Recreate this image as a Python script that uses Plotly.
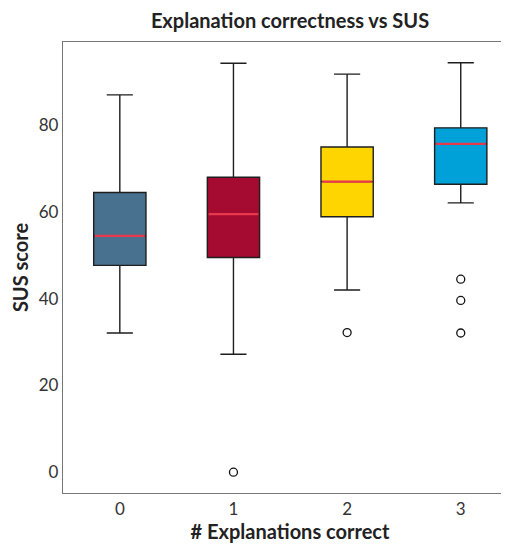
import plotly.graph_objects as go

categories = [0, 1, 2, 3]
upper_whisker = [87.0, 94.3, 91.8, 94.4]
q3_values = [64.5, 68.0, 75.0, 79.4]
median_values = [54.5, 59.5, 67.0, 75.7]
q1_values = [47.7, 49.5, 58.9, 66.4]
lower_whisker = [32.1, 27.2, 42.0, 62.1]
outlier_x = [1, 2, 3, 3, 3]
outlier_y = [0.0, 32.2, 44.5, 39.6, 32.1]
box_colors = ["#48708f", "#a50a30", "#ffd500", "#00a0d8"]
tick_labels = ["0", "1", "2", "3"]

BOX_W = 0.46
FONT = "Lato, 'Open Sans', sans-serif"

fig = go.Figure()
for i, c in enumerate(categories):
    fig.add_trace(go.Box(
        x=[c], q1=[q1_values[i]], median=[median_values[i]], q3=[q3_values[i]],
        lowerfence=[lower_whisker[i]], upperfence=[upper_whisker[i]],
        width=BOX_W, whiskerwidth=0.5,
        fillcolor=box_colors[i], line=dict(color="#1e1e1e", width=1.4),
        boxpoints=False, showlegend=False, hoverinfo="skip",
    ))
    fig.add_trace(go.Scatter(
        x=[c - BOX_W / 2 + 0.01, c + BOX_W / 2 - 0.01],
        y=[median_values[i], median_values[i]],
        mode="lines", line=dict(color="#e8384c", width=2.2),
        showlegend=False, hoverinfo="skip",
    ))

fig.add_trace(go.Scatter(
    x=outlier_x, y=outlier_y, mode="markers",
    marker=dict(symbol="circle-open", size=8, color="#111", line=dict(width=1.3)),
    showlegend=False, hoverinfo="skip",
))

fig.update_layout(
    width=509, height=537,
    margin=dict(l=55, r=0, t=34, b=52),
    paper_bgcolor="white", plot_bgcolor="white",
    title=dict(text="<b>Explanation correctness vs SUS</b>", xref="paper", x=0.5, xanchor="center",
               yref="container", y=0.975, yanchor="middle", font=dict(family=FONT, size=20, color="#222")),
    font=dict(family=FONT, color="#333"),
)
fig.update_xaxes(
    range=[-0.5, 3.495], tickmode="array", tickvals=categories, ticktext=tick_labels,
    showgrid=False, zeroline=False, showline=True, mirror=True,
    linecolor="#777", linewidth=1.3, ticks="",
    tickfont=dict(family=FONT, size=17, color="#333"),
    title=dict(text="<b># Explanations correct</b>", font=dict(family=FONT, size=20, color="#222"), standoff=6),
)
fig.update_yaxes(
    range=[-4.8, 99.2], tickvals=[0, 20, 40, 60, 80],
    showgrid=False, zeroline=False, showline=True, mirror=False,
    linecolor="#777", linewidth=1.3, ticks="",
    tickfont=dict(family=FONT, size=17, color="#333"),
    title=dict(text="<b>SUS score</b>", font=dict(family=FONT, size=20, color="#222"), standoff=9),
)

fig.write_html("out.html")
